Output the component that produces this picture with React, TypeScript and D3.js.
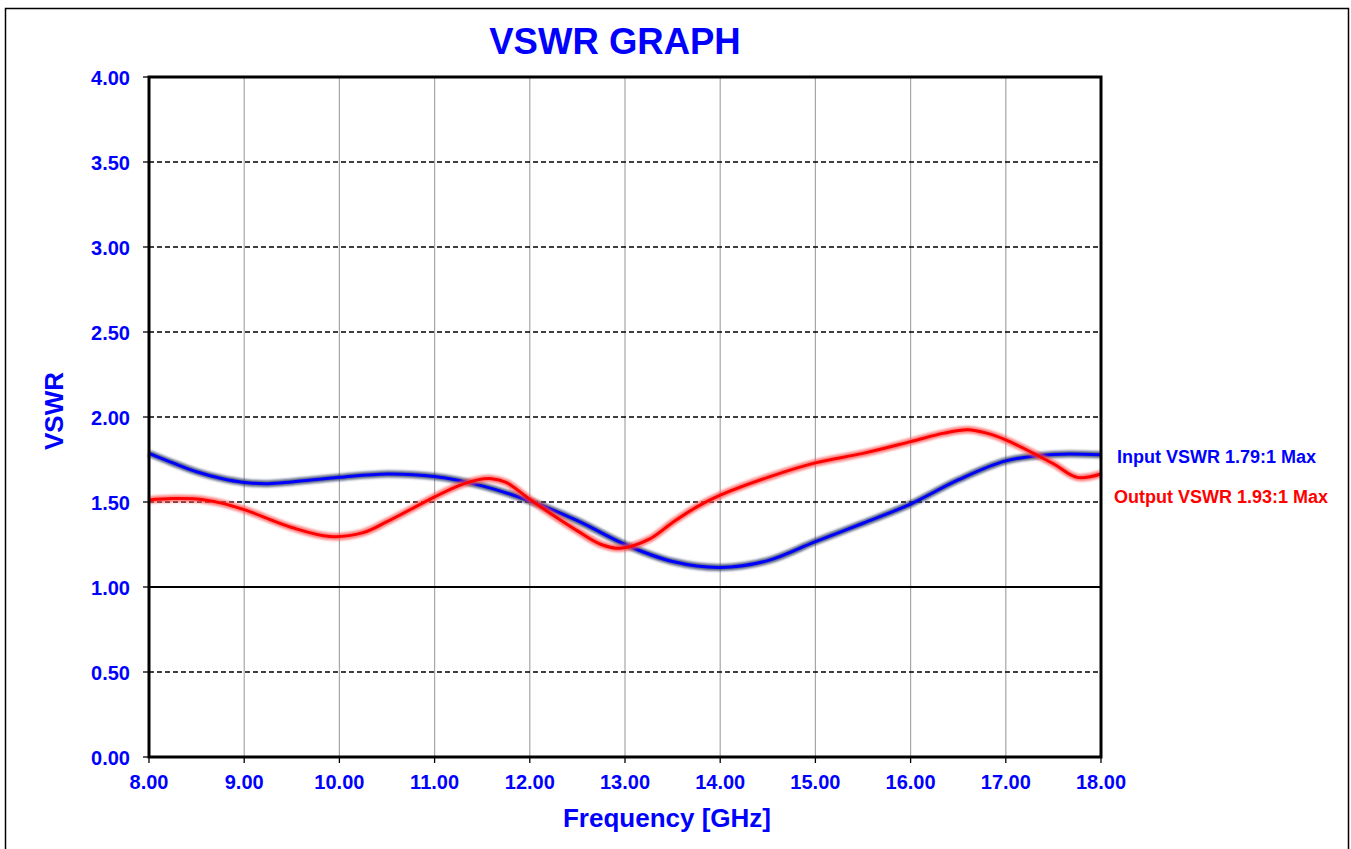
import React from "react";
import * as d3 from "d3";

const inputFreq = [8.0, 8.25, 8.5, 8.75, 9.0, 9.25, 9.5, 10.0, 10.5, 11.0, 11.5, 12.0, 12.5, 13.0, 13.5, 14.0, 14.5, 15.0, 15.5, 16.0, 16.5, 17.0, 17.5, 18.0];
const inputVswr = [1.786, 1.73, 1.678, 1.64, 1.615, 1.608, 1.618, 1.645, 1.665, 1.65, 1.595, 1.506, 1.39, 1.25, 1.15, 1.115, 1.155, 1.267, 1.375, 1.488, 1.63, 1.742, 1.78, 1.778];

const outputFreq = [8.0, 8.25, 8.5, 8.75, 9.0, 9.5, 9.9, 10.25, 10.5, 11.0, 11.25, 11.45, 11.6, 11.75, 12.0, 12.25, 12.5, 12.75, 12.95, 13.25, 13.5, 13.75, 14.0, 14.5, 15.0, 15.5, 16.0, 16.35, 16.6, 16.8, 17.0, 17.5, 17.75, 18.0];
const outputVswr = [1.512, 1.52, 1.518, 1.495, 1.455, 1.35, 1.297, 1.32, 1.384, 1.53, 1.595, 1.63, 1.637, 1.615, 1.516, 1.42, 1.33, 1.25, 1.228, 1.28, 1.38, 1.47, 1.54, 1.645, 1.73, 1.786, 1.855, 1.905, 1.925, 1.905, 1.865, 1.725, 1.645, 1.665];

const xTicks = [8, 9, 10, 11, 12, 13, 14, 15, 16, 17, 18];
const yTicks = [0, 0.5, 1.0, 1.5, 2.0, 2.5, 3.0, 3.5, 4.0];

const title = "VSWR GRAPH";
const xTitle = "Frequency [GHz]";
const yTitle = "VSWR";
const inputLabel = "Input VSWR 1.79:1 Max";
const outputLabel = "Output VSWR 1.93:1 Max";

const W = 1351;
const H = 849;
const L = 149, R = 1101, T = 77, B = 757;
const FONT = "'Liberation Sans', Arial, sans-serif";
const BLUE = "#0000ff";
const RED = "#ff0000";

export default function App() {
  const x = d3.scaleLinear().domain([8, 18]).range([L, R]);
  const y = d3.scaleLinear().domain([0, 4]).range([B, T]);
  const line = d3
    .line<[number, number]>()
    .x((d) => x(d[0]))
    .y((d) => y(d[1]))
    .curve(d3.curveCatmullRom.alpha(0.5));
  const inPts = inputFreq.map((f, i) => [f, inputVswr[i]] as [number, number]);
  const outPts = outputFreq.map((f, i) => [f, outputVswr[i]] as [number, number]);

  return (
    <div style={{ position: "absolute", left: 0, top: 0 }}>
      <svg width={W} height={H} style={{ display: "block" }}>
        <defs>
          <filter id="soft" x="-5%" y="-50%" width="110%" height="200%">
            <feGaussianBlur stdDeviation="0.9" />
          </filter>
        </defs>
        <rect x={0} y={0} width={W} height={H} fill="#fff" />
        <rect x={5.5} y={8.5} width={1343} height={860} fill="none" stroke="#000" strokeWidth={1.5} />

        <text x={615} y={54} textAnchor="middle" fontFamily={FONT} fontWeight="bold" fontSize={36.5} fill={BLUE}>
          {title}
        </text>

        {xTicks.slice(1, -1).map((t) => (
          <line key={"vx" + t} x1={x(t)} x2={x(t)} y1={T} y2={B} stroke="#a6a6a6" strokeWidth={1.2} />
        ))}
        {yTicks.filter((t) => t > 0 && t < 4).map((t) =>
          t === 1 ? (
            <line key={"hy" + t} x1={L} x2={R} y1={y(t)} y2={y(t)} stroke="#000" strokeWidth={2} />
          ) : (
            <line key={"hy" + t} x1={L} x2={R} y1={y(t)} y2={y(t)} stroke="#000" strokeWidth={1.3} strokeDasharray="5,3" />
          )
        )}

        {yTicks.map((t) => (
          <line key={"yt" + t} x1={L - 6} x2={L} y1={y(t)} y2={y(t)} stroke="#000" strokeWidth={1.3} />
        ))}
        {xTicks.map((t) => (
          <line key={"xt" + t} x1={x(t)} x2={x(t)} y1={B} y2={B + 6} stroke="#000" strokeWidth={1.3} />
        ))}

        <path d={line(inPts) || ""} fill="none" stroke="#2a3560" strokeOpacity={0.75} strokeWidth={7} filter="url(#soft)" />
        <path d={line(inPts) || ""} fill="none" stroke={BLUE} strokeWidth={3} />
        <path d={line(outPts) || ""} fill="none" stroke="#ff4d4d" strokeOpacity={0.7} strokeWidth={7.5} filter="url(#soft)" />
        <path d={line(outPts) || ""} fill="none" stroke={RED} strokeWidth={3} />

        <rect x={L} y={T} width={R - L} height={B - T} fill="none" stroke="#000" strokeWidth={3} />

        {yTicks.map((t) => (
          <text key={"yl" + t} x={130} y={y(t) + 8} textAnchor="end" fontFamily={FONT} fontWeight="bold" fontSize={20} fill={BLUE}>
            {t.toFixed(2)}
          </text>
        ))}
        {xTicks.map((t) => (
          <text key={"xl" + t} x={x(t)} y={789} textAnchor="middle" fontFamily={FONT} fontWeight="bold" fontSize={20} fill={BLUE}>
            {t.toFixed(2)}
          </text>
        ))}

        <text x={667} y={827} textAnchor="middle" fontFamily={FONT} fontWeight="bold" fontSize={26} fill={BLUE}>
          {xTitle}
        </text>
        <text transform="translate(63,411) rotate(-90)" textAnchor="middle" fontFamily={FONT} fontWeight="bold" fontSize={26} fill={BLUE}>
          {yTitle}
        </text>

        <text x={1117} y={463} fontFamily={FONT} fontWeight="bold" fontSize={18} fill={BLUE}>
          {inputLabel}
        </text>
        <text x={1114} y={503} fontFamily={FONT} fontWeight="bold" fontSize={18} fill={RED}>
          {outputLabel}
        </text>
      </svg>
    </div>
  );
}
